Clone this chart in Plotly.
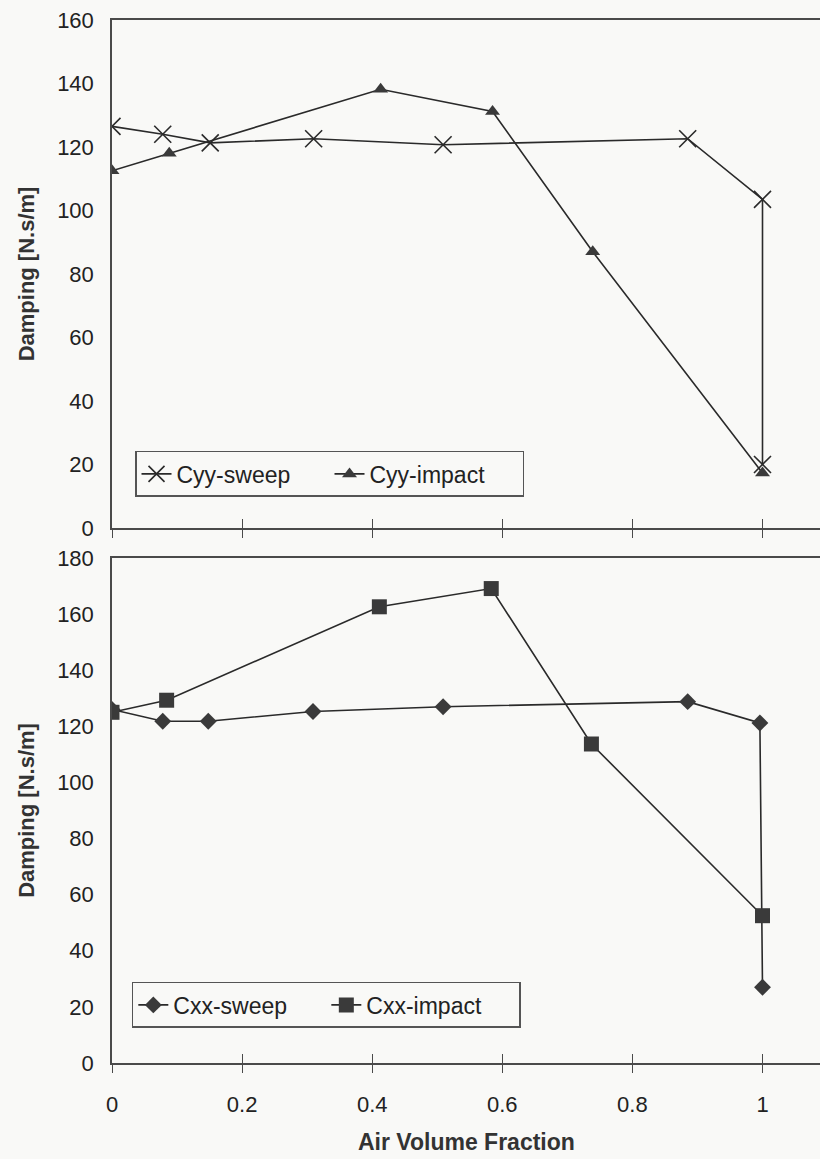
import plotly.graph_objects as go

# ---- data ----
cyy_sweep_x = [0.0, 0.078, 0.151, 0.310, 0.509, 0.885, 1.0, 1.0]
cyy_sweep_y = [126.5, 124.0, 121.3, 122.6, 120.7, 122.6, 103.5, 20.0]
cyy_impact_x = [0.0, 0.088, 0.413, 0.585, 0.739, 1.0]
cyy_impact_y = [112.5, 118.0, 138.2, 131.2, 87.0, 17.3]

cxx_sweep_x = [0.0, 0.078, 0.148, 0.309, 0.509, 0.885, 0.996, 1.0]
cxx_sweep_y = [126.0, 121.8, 121.8, 125.3, 127.0, 128.8, 121.2, 27.0]
cxx_impact_x = [0.0, 0.084, 0.411, 0.583, 0.737, 1.0]
cxx_impact_y = [125.0, 129.3, 162.6, 169.1, 113.7, 52.5]

x_ticks = [0, 0.2, 0.4, 0.6, 0.8, 1.0]
x_tick_text = ["0", "0.2", "0.4", "0.6", "0.8", "1"]
top_y_ticks = list(range(0, 161, 20))
bot_y_ticks = list(range(0, 181, 20))

FONT = "Liberation Sans, Arial, sans-serif"
LINE = "#2a2a2a"
MARK = "#3a3a3a"
AXC = "#4a4a4a"
BG = "#f9f9f7"

fig = go.Figure()

fig.add_trace(go.Scatter(x=cyy_sweep_x, y=cyy_sweep_y, name="Cyy-sweep", mode="lines+markers",
                         line=dict(color=LINE, width=1.6),
                         marker=dict(symbol="x-thin-open", size=17, line=dict(color=MARK, width=1.6)),
                         xaxis="x", yaxis="y", legend="legend"))
fig.add_trace(go.Scatter(x=cyy_impact_x, y=cyy_impact_y, name="Cyy-impact", mode="lines+markers",
                         line=dict(color=LINE, width=1.6),
                         marker=dict(symbol="triangle-up", size=13, color=MARK),
                         xaxis="x", yaxis="y", legend="legend"))
fig.add_trace(go.Scatter(x=cxx_sweep_x, y=cxx_sweep_y, name="Cxx-sweep", mode="lines+markers",
                         line=dict(color=LINE, width=1.6),
                         marker=dict(symbol="diamond", size=13, color=MARK),
                         xaxis="x2", yaxis="y2", legend="legend2"))
fig.add_trace(go.Scatter(x=cxx_impact_x, y=cxx_impact_y, name="Cxx-impact", mode="lines+markers",
                         line=dict(color=LINE, width=1.6),
                         marker=dict(symbol="square", size=15, color=MARK),
                         xaxis="x2", yaxis="y2", legend="legend2"))
# empty traces so the overlay axes (inside half of the cross ticks) are drawn
fig.add_trace(go.Scatter(x=[], y=[], xaxis="x3", yaxis="y", showlegend=False))
fig.add_trace(go.Scatter(x=[], y=[], xaxis="x4", yaxis="y2", showlegend=False))

XR = [0, 1.0884]
xcommon = dict(range=XR, tickvals=x_ticks, ticktext=x_tick_text, showgrid=False, zeroline=False,
               showline=True, linecolor=AXC, linewidth=1.5, ticks="outside", ticklen=8,
               tickwidth=1.3, tickcolor=AXC, mirror=True,
               tickfont=dict(family=FONT, size=22, color="#222"))
xinner = dict(range=XR, tickvals=x_ticks, showgrid=False, zeroline=False, showline=False,
              ticks="inside", ticklen=9, tickwidth=1.3, tickcolor=AXC, showticklabels=False)
ycommon = dict(showgrid=False, zeroline=False, showline=True, linecolor=AXC, linewidth=1.5,
               ticks="", tickfont=dict(family=FONT, size=22, color="#222"),
               ticklabelstandoff=12,
               title=dict(text="<b>Damping [N.s/m]</b>", font=dict(family=FONT, size=22, color="#333"),
                          standoff=16))

top_dom = [0.513, 1.0]
bot_dom = [0.0, 0.4842]
legend_common = dict(orientation="h", xanchor="left", yanchor="top",
                     bgcolor=BG, bordercolor="#555", borderwidth=1.5,
                     font=dict(family=FONT, size=23, color="#222"),
                     entrywidth=148, entrywidthmode="pixels")

fig.update_layout(
    width=820, height=1159,
    margin=dict(l=112, r=0, t=20, b=96, autoexpand=False),
    paper_bgcolor=BG, plot_bgcolor=BG,
    xaxis=dict(**xcommon, anchor="y", domain=[0, 1], showticklabels=False),
    xaxis3=dict(**xinner, overlaying="x", anchor="y"),
    yaxis=dict(**ycommon, domain=top_dom, range=[0, 160], tickvals=top_y_ticks, anchor="x"),
    xaxis2=dict(**xcommon, anchor="y2", domain=[0, 1], ticklabelstandoff=13),
    xaxis4=dict(**xinner, overlaying="x2", anchor="y2"),
    yaxis2=dict(**ycommon, domain=bot_dom, range=[0, 180], tickvals=bot_y_ticks, anchor="x2"),
    legend=dict(**legend_common, x=0.0325, y=0.5868),
    legend2=dict(**legend_common, x=0.028, y=0.0777),
    showlegend=True,
    annotations=[dict(text="<b>Air Volume Fraction</b>", xref="paper", yref="paper",
                      x=0.5, y=-0.0757, xanchor="center", yanchor="middle", showarrow=False,
                      font=dict(family=FONT, size=23, color="#333"))],
)

fig.write_html("out.html", config={"displayModeBar": False},
               post_script="document.body.style.margin='0';document.body.style.overflow='hidden';")
